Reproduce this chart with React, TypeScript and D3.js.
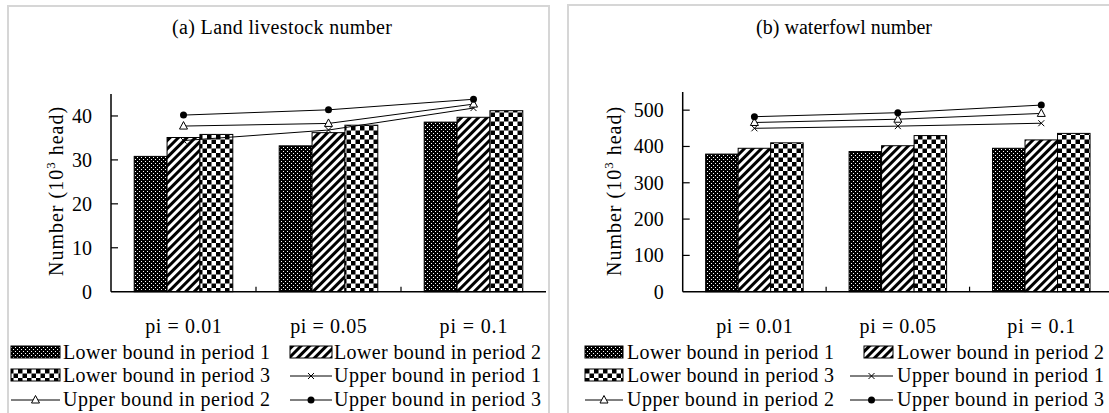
import React from 'react';
import * as d3 from 'd3';

const W = 1109;
const H = 413;

// categories
const groups = ['pi = 0.01', 'pi = 0.05', 'pi = 0.1'];
const seriesNames = [
  'Lower bound in period 1',
  'Lower bound in period 2',
  'Lower bound in period 3',
  'Upper bound in period 1',
  'Upper bound in period 2',
  'Upper bound in period 3',
];

// (a) land livestock, 10^3 head
const livestockLower1 = [30.8, 33.2, 38.6];
const livestockLower2 = [35.1, 36.2, 39.7];
const livestockLower3 = [35.8, 37.9, 41.2];
const livestockUpper1 = [34.4, 36.8, 41.8];
const livestockUpper2 = [37.7, 38.3, 42.7];
const livestockUpper3 = [40.2, 41.4, 43.8];
const livestockTicks = [0, 10, 20, 30, 40];

// (b) waterfowl, 10^3 head
const waterLower1 = [379, 386, 395];
const waterLower2 = [395, 402, 418];
const waterLower3 = [410, 430, 436];
const waterUpper1 = [450, 456, 464];
const waterUpper2 = [466, 475, 491];
const waterUpper3 = [482, 493, 514];
const waterTicks = [0, 100, 200, 300, 400, 500];

const FONT = "'Liberation Serif', 'Times New Roman', serif";
const fills = ['url(#pDots)', 'url(#pStripe)', 'url(#pCheck)'];

const Marker = ({ kind, x, y }) => {
  if (kind === 0) {
    return (
      <g stroke="#000" strokeWidth={1}>
        <line x1={x - 3} y1={y - 3} x2={x + 3} y2={y + 3} />
        <line x1={x - 3} y1={y + 3} x2={x + 3} y2={y - 3} />
      </g>
    );
  }
  if (kind === 1) {
    return (
      <path
        d={`M${x},${y - 4.5}L${x + 4},${y + 3}L${x - 4},${y + 3}Z`}
        fill="#fff"
        stroke="#000"
        strokeWidth={1}
      />
    );
  }
  return <circle cx={x} cy={y} r={3.5} fill="#000" />;
};

const Panel = ({ cfg }) => {
  const { title, titleX, lower, upper, yMax, ticks, xRange, yTop, labelX, border, legend } = cfg;
  const y = d3.scaleLinear().domain([0, yMax]).range([291.7, yTop]);
  const x0 = d3.scaleBand().domain(groups).range(xRange).paddingInner(0.32).paddingOuter(0.16);
  const x1 = d3.scaleBand().domain(d3.range(3)).range([0, x0.bandwidth()]);
  const step = x0.step();
  const cx = (g) => x0(g) + x0.bandwidth() / 2;
  const line = d3.line().x((d) => d[0]).y((d) => d[1]);
  const tw = (s, w) => s.length * w;

  return (
    <g>
      <rect x={border[0]} y={border[1]} width={border[2]} height={430} fill="#fff" stroke="#d6d6d6" strokeWidth={2} />
      <text x={titleX} y={34} textAnchor="middle" fontSize={20} textLength={tw(title, 8.8)} lengthAdjust="spacing">
        {title}
      </text>

      {/* bars */}
      {lower.map((vals, s) =>
        vals.map((v, i) => (
          <rect
            key={`${s}-${i}`}
            x={x0(groups[i]) + x1(s)}
            y={y(v)}
            width={x1.bandwidth()}
            height={y(0) - y(v)}
            fill={fills[s]}
            stroke="#000"
            strokeWidth={1}
          />
        ))
      )}

      {/* axes */}
      <line x1={xRange[0]} y1={y(0)} x2={xRange[1]} y2={y(0)} stroke="#000" strokeWidth={1.5} />
      <line x1={xRange[0]} y1={y(0)} x2={xRange[0]} y2={yTop} stroke="#000" strokeWidth={1.5} />
      {ticks.map((t) => (
        <g key={t}>
          {t > 0 && <line x1={xRange[0]} x2={xRange[0] + 7} y1={y(t)} y2={y(t)} stroke="#000" strokeWidth={1.2} />}
          <text x={xRange[0] - 19} y={y(t) + 7} textAnchor="end" fontSize={20}>
            {t}
          </text>
        </g>
      ))}
      {groups.map((g, i) => (
        <g key={g}>
          {i > 0 && <line x1={x0(g) - x0.paddingInner() * step / 2} x2={x0(g) - x0.paddingInner() * step / 2} y1={y(0)} y2={y(0) - 5} stroke="#000" strokeWidth={1.2} />}
          <text x={cx(g)} y={333} textAnchor="middle" fontSize={20} textLength={tw(g, 8.5)} lengthAdjust="spacing">
            {g}
          </text>
        </g>
      ))}
      <text transform={`translate(${labelX},${191}) rotate(-90)`} textAnchor="middle" fontSize={20} letterSpacing={1}>
        Number (10<tspan fontSize={13} dy={-8}>3</tspan>
        <tspan dy={8}> head)</tspan>
      </text>

      {/* upper bound lines */}
      {upper.map((vals, s) => (
        <g key={s}>
          <path d={line(vals.map((v, i) => [cx(groups[i]), y(v)]))} fill="none" stroke="#000" strokeWidth={1} />
          {vals.map((v, i) => (
            <Marker key={i} kind={s} x={cx(groups[i])} y={y(v)} />
          ))}
        </g>
      ))}

      {/* legend */}
      {legend.map((it) => {
        const by = it.y;
        const isBar = it.s < 3;
        return (
          <g key={it.s}>
            {isBar ? (
              <rect x={it.x0} y={by - 13} width={it.x1 - it.x0} height={12} fill={fills[it.s]} stroke="#000" strokeWidth={1} />
            ) : (
              <g>
                <line x1={it.x0} x2={it.x1} y1={by - 6} y2={by - 6} stroke="#000" strokeWidth={1} />
                <Marker kind={it.s - 3} x={(it.x0 + it.x1) / 2} y={by - 6} />
              </g>
            )}
            <text x={it.tx} y={by} fontSize={20} textLength={tw(seriesNames[it.s], 9)} lengthAdjust="spacing">
              {seriesNames[it.s]}
            </text>
          </g>
        );
      })}
    </g>
  );
};

const rows = [359, 382, 406];
const legendLayout = (c1, c2, c2bar) => [
  { s: 0, y: rows[0], x0: c1[0], x1: c1[1], tx: c1[2] },
  { s: 2, y: rows[1], x0: c1[0], x1: c1[1], tx: c1[2] },
  { s: 4, y: rows[2], x0: c1[0], x1: c1[1], tx: c1[2] },
  { s: 1, y: rows[0], x0: c2bar, x1: c2[1], tx: c2[2] },
  { s: 3, y: rows[1], x0: c2[0], x1: c2[1], tx: c2[2] },
  { s: 5, y: rows[2], x0: c2[0], x1: c2[1], tx: c2[2] },
];

const panelA = {
  title: '(a) Land livestock number',
  titleX: 282,
  lower: [livestockLower1, livestockLower2, livestockLower3],
  upper: [livestockUpper1, livestockUpper2, livestockUpper3],
  yMax: 45,
  yTop: 94,
  ticks: livestockTicks,
  xRange: [111, 546],
  labelX: 63,
  border: [8, 6, 541],
  legend: legendLayout([11, 60, 63], [290, 332, 334], 290),
};

const panelB = {
  title: '(b) waterfowl number',
  titleX: 844,
  lower: [waterLower1, waterLower2, waterLower3],
  upper: [waterUpper1, waterUpper2, waterUpper3],
  yMax: 550,
  yTop: 92,
  ticks: waterTicks,
  xRange: [682.7, 1113],
  labelX: 621,
  border: [568, 5, 600],
  legend: legendLayout([585, 623, 627], [850, 893, 897], 864),
};

export default function App() {
  return (
    <svg width={W} height={H} style={{ position: 'absolute', left: 0, top: 0, fontFamily: FONT }}>
      <defs>
        <pattern id="pDots" width={4} height={4} patternUnits="userSpaceOnUse">
          <rect width={4} height={4} fill="#000" />
          <rect x={1} y={1} width={1} height={1} fill="#fff" />
          <rect x={3} y={3} width={1} height={1} fill="#fff" />
        </pattern>
        <pattern id="pStripe" width={6} height={6} patternUnits="userSpaceOnUse" patternTransform="rotate(45)">
          <rect width={6} height={6} fill="#fff" />
          <rect width={3} height={6} fill="#000" />
        </pattern>
        <pattern id="pCheck" width={9} height={9} patternUnits="userSpaceOnUse">
          <rect width={9} height={9} fill="#fff" />
          <rect width={4.5} height={4.5} fill="#000" />
          <rect x={4.5} y={4.5} width={4.5} height={4.5} fill="#000" />
        </pattern>
      </defs>
      <rect width={W} height={H} fill="#fff" />
      <Panel cfg={panelA} />
      <Panel cfg={panelB} />
    </svg>
  );
}
